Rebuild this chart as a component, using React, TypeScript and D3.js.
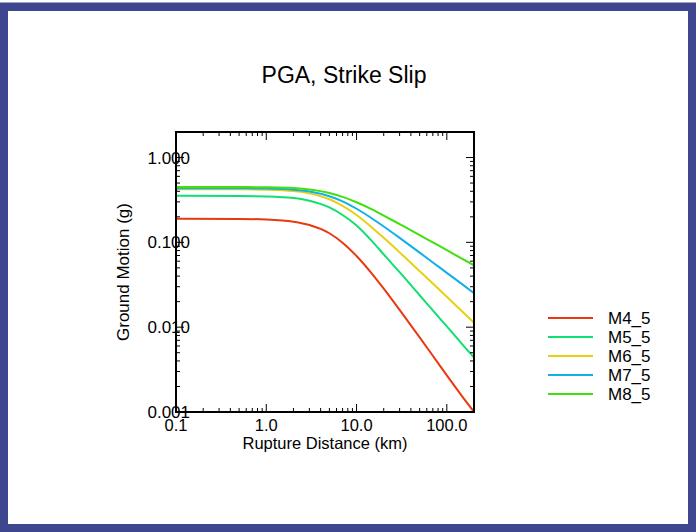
import React from "react";
import * as d3 from "d3";

const title = "PGA, Strike Slip";
const xTitle = "Rupture Distance (km)";
const yTitle = "Ground Motion (g)";
const xDomain = [0.1, 200];
const yDomain = [0.001, 2];
const xTickValues = [0.1, 1, 10, 100];
const xTickLabels = ["0.1", "1.0", "10.0", "100.0"];
const yTickValues = [0.001, 0.01, 0.1, 1];
const yTickLabels = ["0.001", "0.010", "0.100", "1.000"];

const distances = [0.1, 0.5, 1, 2, 3, 5, 7, 10, 15, 20, 30, 50, 70, 100, 150, 200];
const seriesNames = ["M4_5", "M5_5", "M6_5", "M7_5", "M8_5"];
const seriesColors = ["#e83a10", "#10e070", "#e8d010", "#10b0e8", "#40e010"];
const m45 = [0.19, 0.189, 0.186, 0.175, 0.16, 0.128, 0.099, 0.069, 0.042, 0.0285, 0.016, 0.0076, 0.0046, 0.0027, 0.0015, 0.001];
const m55 = [0.354, 0.352, 0.348, 0.333, 0.31, 0.258, 0.21, 0.158, 0.102, 0.072, 0.0445, 0.0238, 0.0158, 0.0102, 0.0062, 0.0044];
const m65 = [0.424, 0.422, 0.418, 0.402, 0.378, 0.322, 0.27, 0.21, 0.148, 0.113, 0.0762, 0.0458, 0.0327, 0.0228, 0.0151, 0.0113];
const m75 = [0.435, 0.434, 0.431, 0.418, 0.398, 0.35, 0.304, 0.249, 0.19, 0.154, 0.113, 0.0757, 0.0579, 0.0437, 0.0317, 0.0252];
const m85 = [0.45, 0.449, 0.446, 0.436, 0.42, 0.382, 0.344, 0.297, 0.243, 0.207, 0.164, 0.122, 0.1, 0.081, 0.0636, 0.0537];
const seriesValues = [m45, m55, m65, m75, m85];

const W = 696;
const H = 532;
const plot = { left: 176, right: 474, top: 132, bottom: 412 };
const FONT = "'Liberation Sans', Arial, Helvetica, sans-serif";

function logTicks(domain: number[]) {
  const out: { v: number; major: boolean }[] = [];
  const lo = Math.floor(Math.log10(domain[0]));
  const hi = Math.ceil(Math.log10(domain[1]));
  for (let e = lo; e <= hi; e++) {
    for (let k = 1; k <= 9; k++) {
      const v = k * Math.pow(10, e);
      if (v >= domain[0] * 0.9999 && v <= domain[1] * 1.0001) out.push({ v, major: k === 1 });
    }
  }
  return out;
}

export default function App() {
  const x = d3.scaleLog().domain(xDomain).range([plot.left, plot.right]);
  const y = d3.scaleLog().domain(yDomain).range([plot.bottom, plot.top]);
  const line = d3
    .line<[number, number]>()
    .x((d) => x(d[0]))
    .y((d) => y(d[1]))
    .curve(d3.curveMonotoneX);
  const xt = logTicks(xDomain);
  const yt = logTicks(yDomain);
  const majorLen = 8;
  const minorLen = 4;
  const legendX = 548;
  const legendY0 = 318;
  const legendDy = 19;

  return (
    <div style={{ position: "absolute", left: 0, top: 0, width: W, height: H, background: "#fff" }}>
      <svg width={W} height={H} style={{ display: "block" }} fontFamily={FONT}>
        <rect x={0} y={0} width={W} height={H} fill="#fff" />
        <rect x={4} y={7} width={688} height={521} fill="none" stroke="#3e4690" strokeWidth={8} />
        <line x1={0} x2={W} y1={2.5} y2={2.5} stroke="#9ea3c8" strokeWidth={1} />
        <text x={344} y={83} textAnchor="middle" fontSize={23} fill="#000">
          {title}
        </text>
        <defs>
          <clipPath id="plotclip">
            <rect x={plot.left} y={plot.top} width={plot.right - plot.left} height={plot.bottom - plot.top} />
          </clipPath>
        </defs>
        <g clipPath="url(#plotclip)">
          {seriesValues.map((vals, i) => (
            <path
              key={seriesNames[i]}
              d={line(distances.map((d, j) => [d, vals[j]] as [number, number])) || ""}
              fill="none"
              stroke={seriesColors[i]}
              strokeWidth={2}
            />
          ))}
        </g>
        <g stroke="#000" strokeWidth={1}>
          {xt.map((t, i) => {
            const px = x(t.v);
            const len = t.major ? majorLen : minorLen;
            return (
              <g key={"xt" + i}>
                <line x1={px} x2={px} y1={plot.bottom} y2={plot.bottom - len} />
                <line x1={px} x2={px} y1={plot.top} y2={plot.top + len} />
              </g>
            );
          })}
          {yt.map((t, i) => {
            const py = y(t.v);
            const len = t.major ? majorLen : minorLen;
            return (
              <g key={"yt" + i}>
                <line x1={plot.left} x2={plot.left + len} y1={py} y2={py} />
                <line x1={plot.right} x2={plot.right - len} y1={py} y2={py} />
              </g>
            );
          })}
        </g>
        <rect
          x={plot.left}
          y={plot.top}
          width={plot.right - plot.left}
          height={plot.bottom - plot.top}
          fill="none"
          stroke="#000"
          strokeWidth={2}
        />
        {xTickValues.map((v, i) => (
          <text key={"xl" + i} x={x(v)} y={431} textAnchor="middle" fontSize={16.5} fill="#000">
            {xTickLabels[i]}
          </text>
        ))}
        {yTickValues.map((v, i) => (
          <text key={"yl" + i} x={190} y={y(v) + 6} textAnchor="end" fontSize={17} fill="#000">
            {yTickLabels[i]}
          </text>
        ))}
        <text x={(plot.left + plot.right) / 2} y={449} textAnchor="middle" fontSize={16.5} fill="#000">
          {xTitle}
        </text>
        <text
          transform={`translate(129, ${(plot.top + plot.bottom) / 2}) rotate(-90)`}
          textAnchor="middle"
          fontSize={17}
          fill="#000"
        >
          {yTitle}
        </text>
        {seriesNames.map((name, i) => (
          <g key={"lg" + i}>
            <line
              x1={legendX}
              x2={legendX + 45}
              y1={legendY0 + i * legendDy}
              y2={legendY0 + i * legendDy}
              stroke={seriesColors[i]}
              strokeWidth={2}
            />
            <text x={legendX + 60} y={legendY0 + i * legendDy + 6} fontSize={17} fill="#000">
              {name}
            </text>
          </g>
        ))}
      </svg>
    </div>
  );
}
